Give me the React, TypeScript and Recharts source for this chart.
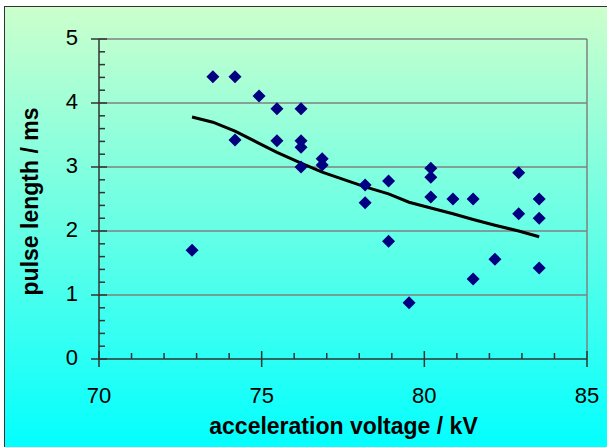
import React from 'react';
import { ComposedChart, Scatter, Line, XAxis, YAxis, CartesianGrid, ReferenceLine, Label } from 'recharts';

const voltage = [72.86, 73.5, 74.18, 74.18, 74.92, 75.47, 75.47, 76.21, 76.21, 76.21, 76.21, 76.86, 76.86, 78.18, 78.18, 78.9, 78.9, 79.53, 80.2, 80.2, 80.2, 80.88, 81.5, 81.5, 82.17, 82.9, 82.9, 83.53, 83.53, 83.53];
const pulse = [1.7, 4.41, 4.41, 3.42, 4.11, 3.91, 3.41, 3.91, 3.41, 3.31, 3.0, 3.13, 3.03, 2.72, 2.44, 2.78, 1.84, 0.88, 2.98, 2.84, 2.53, 2.5, 2.5, 1.25, 1.56, 2.91, 2.27, 2.5, 2.2, 1.42];

const trendVoltage = [72.86, 73.5, 74.18, 74.92, 75.47, 76.21, 76.86, 78.18, 78.9, 79.53, 80.2, 80.88, 81.5, 82.17, 82.9, 83.53];
const trendPulse = [3.78, 3.7, 3.56, 3.37, 3.23, 3.06, 2.92, 2.69, 2.58, 2.45, 2.36, 2.27, 2.18, 2.09, 2.0, 1.91];

const xMajorTicks = [70, 75, 80, 85];
const yMajorTicks = [0, 1, 2, 3, 4, 5];
const gridValues = [1, 2, 3, 4, 5];

const xAllTicks = Array.from({ length: 16 }, (_, i) => 70 + i);
const yAllTicks = Array.from({ length: 26 }, (_, i) => Math.round(i * 2) / 10);

const points = voltage.map((v, i) => ({ x: v, y: pulse[i] }));
const trend = trendVoltage.map((v, i) => ({ x: v, y: trendPulse[i] }));

const FONT = '"Liberation Sans", Arial, sans-serif';
const AXIS = '#333333';

const isMajor = (v: number, majors: number[]) => majors.some((m) => Math.abs(m - v) < 1e-6);

const XTick = (props: any) => {
  const { x, y, payload } = props;
  const v = payload.value;
  if (isMajor(v, xMajorTicks)) {
    return (
      <g>
        <line x1={x} x2={x} y1={y - 8} y2={y + 8} stroke={AXIS} strokeWidth={1.5} />
        <text x={x} y={y + 44} textAnchor="middle" fontFamily={FONT} fontSize={22} fill="#000">{v}</text>
      </g>
    );
  }
  return <line x1={x} x2={x} y1={y} y2={y - 6} stroke={AXIS} strokeWidth={1.5} />;
};

const YTick = (props: any) => {
  const { x, y, payload } = props;
  const v = payload.value;
  if (isMajor(v, yMajorTicks)) {
    return (
      <g>
        <line x1={x - 8} x2={x + 8} y1={y} y2={y} stroke={AXIS} strokeWidth={1.5} />
        <text x={x - 21} y={y + 5.5} textAnchor="end" fontFamily={FONT} fontSize={22} fill="#000">{v}</text>
      </g>
    );
  }
  return <line x1={x} x2={x + 6} y1={y} y2={y} stroke={AXIS} strokeWidth={1.5} />;
};

const Diamond = (props: any) => {
  const { cx, cy } = props;
  const r = 6.5;
  return <polygon points={`${cx},${cy - r} ${cx + r},${cy} ${cx},${cy + r} ${cx - r},${cy}`} fill="#000080" />;
};

export default function App() {
  return (
    <div style={{ position: 'absolute', left: 0, top: 0, width: 607, height: 447, overflow: 'hidden', background: '#fff' }}>
      <div
        style={{
          position: 'absolute',
          left: 4,
          top: 6,
          width: 620,
          height: 445,
          border: '1.5px solid #333',
          background: 'linear-gradient(to bottom, #CCFFCC 0%, #00FFFF 100%)',
        }}
      />
      <div style={{ position: 'absolute', left: 0, top: 0 }}>
        <ComposedChart width={607} height={447} margin={{ top: 39, right: 20, bottom: 28, left: 0 }}>
          <CartesianGrid horizontal vertical={false} horizontalValues={gridValues} stroke="#808080" strokeWidth={1.5} />
          <ReferenceLine x={85} stroke="#808080" strokeWidth={1.5} />
          <XAxis
            type="number"
            dataKey="x"
            domain={[70, 85]}
            ticks={xAllTicks}
            interval={0}
            tickLine={false}
            tickSize={0}
            tickMargin={0}
            height={60}
            axisLine={{ stroke: AXIS, strokeWidth: 1.5 }}
            tick={<XTick />}
            allowDataOverflow
          >
          </XAxis>
          <YAxis
            type="number"
            dataKey="y"
            domain={[0, 5]}
            ticks={yAllTicks}
            interval={0}
            tickLine={false}
            tickSize={0}
            tickMargin={0}
            width={99}
            axisLine={{ stroke: AXIS, strokeWidth: 1.5 }}
            tick={<YTick />}
            allowDataOverflow
          />
          <Scatter data={points} dataKey="y" shape={<Diamond />} isAnimationActive={false} />
          <Line data={trend} dataKey="y" type="linear" stroke="#000" strokeWidth={3} dot={false} activeDot={false} isAnimationActive={false} />
        </ComposedChart>
      </div>
      <svg width={607} height={447} style={{ position: 'absolute', left: 0, top: 0, pointerEvents: 'none' }}>
        <text x={343.5} y={433.5} textAnchor="middle" fontFamily={FONT} fontWeight="bold" fontSize={23} fill="#000">
          acceleration voltage / kV
        </text>
        <text
          x={0}
          y={0}
          transform="translate(38,201.5) rotate(-90)"
          textAnchor="middle"
          fontFamily={FONT}
          fontWeight="bold"
          fontSize={23}
          fill="#000"
        >
          pulse length / ms
        </text>
      </svg>
    </div>
  );
}
